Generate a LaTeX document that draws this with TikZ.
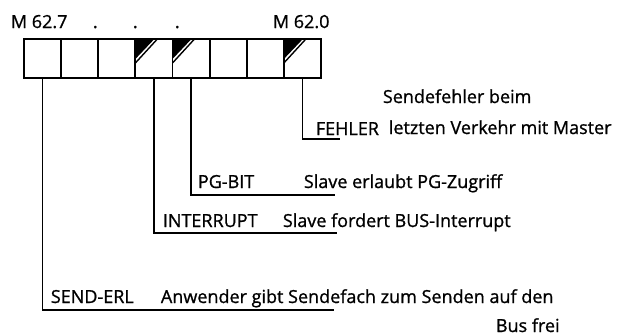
\documentclass[tikz,border=0pt]{standalone}
\usepackage{fontspec}
\setmainfont[FakeBold=1]{Open Sans}
\begin{document}
\begin{tikzpicture}[x=1pt,y=1pt, line width=1.8pt,
  cell/.style={draw, minimum width=37.125pt, minimum height=39pt, inner sep=0pt, outer sep=0pt, anchor=north west},
  flagged/.style={path picture={
      \fill (path picture bounding box.north west) -- ++(19,0) -- ++(-19,-20) -- cycle;
      \draw[line width=1.4pt] ([xshift=22pt]path picture bounding box.north west) -- ([yshift=-24pt]path picture bounding box.north west);}},
  lbl/.style={inner sep=0pt, anchor=base west, font=\fontsize{18}{21}\selectfont},
]
\useasboundingbox (0,0) rectangle (632,-335);
% register cells (bit 7 ... bit 0)
\node[cell] (c7) at (24,-39) {};
\node[cell] (c6) at (61.125,-39) {};
\node[cell] (c5) at (98.25,-39) {};
\node[cell, flagged] (c4) at (135.375,-39) {};
\node[cell, flagged] (c3) at (172.5,-39) {};
\node[cell] (c2) at (209.625,-39) {};
\node[cell] (c1) at (246.75,-39) {};
\node[cell, flagged] (c0) at (283.875,-39) {};
% header labels
\node[lbl] (m7) at (10,-28) {M 62.7};
\node[lbl] (d1) at (92,-28) {.};
\node[lbl] (d2) at (132,-28) {.};
\node[lbl] (d3) at (174,-28) {.};
\node[lbl] (m0) at (272,-28) {M 62.0};
% bit labels
\node[lbl] (t0a) at (382,-103) {Sendefehler beim};
\node[lbl] (n0) at (315,-135) {FEHLER};
\node[lbl] (t0b) at (388,-134) {letzten Verkehr mit Master};
\node[lbl] (n3) at (197,-188) {PG-BIT};
\node[lbl] (t3) at (303,-188) {Slave erlaubt PG-Zugriff};
\node[lbl] (n4) at (162,-227) {INTERRUPT};
\node[lbl] (t4) at (282,-227) {Slave fordert BUS-Interrupt};
\node[lbl] (n7) at (50,-303) {SEND-ERL};
\node[lbl] (t7) at (160,-303) {Anwender gibt Sendefach zum Senden auf den};
\node[lbl] (t7b) at (495,-332) {Bus frei};
% connectors
\coordinate (e0) at (340,-139);
\coordinate (e3) at (335,-195);
\coordinate (e4) at (337,-233);
\coordinate (e7) at (334,-310);
\draw (c0.south) |- (e0);
\draw (c3.south) |- (e3);
\draw (c4.south) |- (e4);
\draw (c7.south) |- (e7);
\end{tikzpicture}
\end{document}
